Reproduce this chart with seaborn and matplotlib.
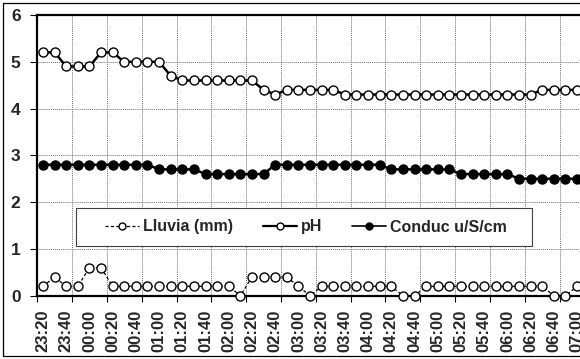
import matplotlib
matplotlib.use("Agg")
import matplotlib.pyplot as plt
from matplotlib import font_manager
from matplotlib.lines import Line2D
from matplotlib.patches import Rectangle
from matplotlib.ticker import FixedLocator, NullFormatter
import seaborn as sns
import pandas as pd
import numpy as np

# ---- data ----
times = ["23:20", "23:30", "23:40", "23:50", "00:00", "00:10", "00:20", "00:30",
         "00:40", "00:50", "01:00", "01:10", "01:20", "01:30", "01:40", "01:50",
         "02:00", "02:10", "02:20", "02:30", "02:40", "02:50", "03:00", "03:10",
         "03:20", "03:30", "03:40", "03:50", "04:00", "04:10", "04:20", "04:30",
         "04:40", "04:50", "05:00", "05:10", "05:20", "05:30", "05:40", "05:50",
         "06:00", "06:10", "06:20", "06:30", "06:40", "06:50", "07:00"]

lluvia = [0.2, 0.4, 0.2, 0.2, 0.6, 0.6, 0.2, 0.2, 0.2, 0.2, 0.2, 0.2, 0.2, 0.2,
          0.2, 0.2, 0.2, 0.0, 0.4, 0.4, 0.4, 0.4, 0.2, 0.0, 0.2, 0.2, 0.2, 0.2,
          0.2, 0.2, 0.2, 0.0, 0.0, 0.2, 0.2, 0.2, 0.2, 0.2, 0.2, 0.2, 0.2, 0.2,
          0.2, 0.2, 0.0, 0.0, 0.2]

ph = [5.2, 5.2, 4.9, 4.9, 4.9, 5.2, 5.2, 5.0, 5.0, 5.0, 5.0, 4.7, 4.6, 4.6,
      4.6, 4.6, 4.6, 4.6, 4.6, 4.4, 4.3, 4.4, 4.4, 4.4, 4.4, 4.4, 4.3, 4.3,
      4.3, 4.3, 4.3, 4.3, 4.3, 4.3, 4.3, 4.3, 4.3, 4.3, 4.3, 4.3, 4.3, 4.3,
      4.3, 4.4, 4.4, 4.4, 4.4]

conduc = [2.8, 2.8, 2.8, 2.8, 2.8, 2.8, 2.8, 2.8, 2.8, 2.8, 2.7, 2.7, 2.7, 2.7,
          2.6, 2.6, 2.6, 2.6, 2.6, 2.6, 2.8, 2.8, 2.8, 2.8, 2.8, 2.8, 2.8, 2.8,
          2.8, 2.8, 2.7, 2.7, 2.7, 2.7, 2.7, 2.7, 2.6, 2.6, 2.6, 2.6, 2.6, 2.5,
          2.5, 2.5, 2.5, 2.5, 2.5]

series_names = ["Lluvia (mm)", "pH", "Conduc u/S/cm"]
y_ticks = [0, 1, 2, 3, 4, 5, 6]

# ---- style ----
sns.set_theme(style="white")
plt.rcParams["font.family"] = ["Liberation Sans", "DejaVu Sans"]
plt.rcParams["font.weight"] = "bold"

W, H = 580, 359
fig = plt.figure(figsize=(W / 100, H / 100), dpi=100)
fig.patch.set_facecolor("white")

# axes geometry (pixels)
spacing = 11.61
x0_px = 43.0 - 0.5 * spacing
xmin, xmax = -0.5, 47.5
ax_w = (xmax - xmin) * spacing
ax_top, ax_bot = 15.0, 295.7
ax = fig.add_axes([x0_px / W, (H - ax_bot) / H, ax_w / W, (ax_bot - ax_top) / H])

idx = np.arange(len(times))
df = pd.DataFrame({"i": idx, "lluvia": lluvia, "ph": ph, "conduc": conduc})

ms = 6.5
sns.lineplot(data=df, x="i", y="lluvia", ax=ax, color="black", lw=0.9,
             linestyle=(0, (2.5, 1.8)), marker="o", markersize=ms,
             markerfacecolor="white", markeredgecolor="black", markeredgewidth=1.0,
             clip_on=False, zorder=3)
sns.lineplot(data=df, x="i", y="ph", ax=ax, color="black", lw=1.8,
             marker="o", markersize=ms, markerfacecolor="white",
             markeredgecolor="black", markeredgewidth=1.0, zorder=3)
sns.lineplot(data=df, x="i", y="conduc", ax=ax, color="black", lw=1.8,
             marker="o", markersize=ms, markerfacecolor="black",
             markeredgecolor="black", markeredgewidth=1.0, zorder=3)

ax.set_xlim(xmin, xmax)
ax.set_ylim(0, 6)
ax.set_xlabel("")
ax.set_ylabel("")

# x ticks: labels every 2 categories, tick marks / gridlines every 3 categories
ax.set_xticks(idx[::2])
ax.set_xticklabels(times[::2], rotation=90, fontsize=12, fontweight="bold")
ax.xaxis.set_minor_locator(FixedLocator(np.arange(-0.5, 48, 3)))
ax.xaxis.set_minor_formatter(NullFormatter())
ax.tick_params(axis="x", which="major", length=0, pad=10)
ax.tick_params(axis="x", which="minor", length=4, width=0.8, direction="out",
               color="black", bottom=True)

ax.set_yticks(y_ticks)
ax.set_yticklabels([str(v) for v in y_ticks], fontsize=12.5, fontweight="bold")
ax.tick_params(axis="y", which="major", length=5, width=0.8, direction="out",
               color="black", left=True, pad=7)

ax.grid(False)
ax.yaxis.grid(True, which="major", color="#707070", linestyle=(0, (1, 1)), lw=0.7)
ax.xaxis.grid(True, which="minor", color="#707070", linestyle=(0, (1, 1)), lw=0.7)
ax.set_axisbelow(True)

for side in ["left", "bottom", "top"]:
    ax.spines[side].set_visible(True)
    ax.spines[side].set_color("black")
    ax.spines[side].set_linewidth(1.6)
ax.spines["right"].set_visible(False)

# legend frame (pixels 76..532 x 208..246)
fig.patches.append(Rectangle((76 / W, (H - 246) / H), (532 - 76) / W, 38 / H,
                             transform=fig.transFigure, facecolor="white",
                             edgecolor="#404040", lw=0.8, zorder=5))

handles = [
    Line2D([], [], color="black", lw=0.9, linestyle=(0, (2.5, 1.8)), marker="o",
           markersize=5, markerfacecolor="white", markeredgecolor="black", markeredgewidth=1.0),
    Line2D([], [], color="black", lw=1.6, marker="o", markersize=5,
           markerfacecolor="white", markeredgecolor="black", markeredgewidth=1.0),
    Line2D([], [], color="black", lw=1.2, marker="o", markersize=5,
           markerfacecolor="black", markeredgecolor="black"),
]
leg = fig.legend(handles, series_names, loc="center",
                 bbox_to_anchor=(306 / W, (H - 227) / H), ncol=3, frameon=False,
                 handlelength=2.1, handletextpad=0.25, columnspacing=1.9,
                 borderpad=0.3,
                 prop={"family": "Liberation Sans", "weight": "bold", "size": 11.5})
leg.set_zorder(10)

# outer chart border
fig.patches.append(Rectangle((2.5 / W, (H - 355.5) / H), (W + 20) / W, (353.0) / H,
                             transform=fig.transFigure, fill=False,
                             edgecolor="black", lw=0.9, zorder=0))

fig.savefig("out.png", dpi=100, facecolor="white")
